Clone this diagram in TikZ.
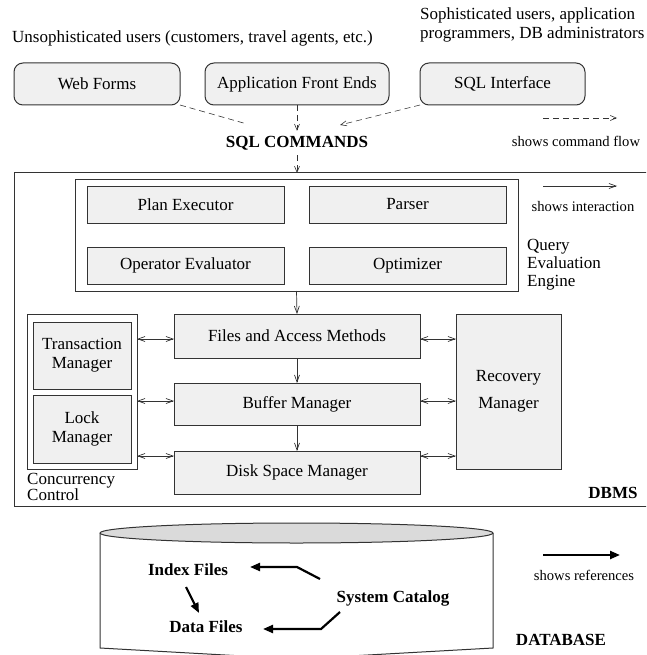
\documentclass[tikz,border=0pt]{standalone}
\usepackage{fontspec}
\setmainfont{Liberation Serif}
\usetikzlibrary{arrows.meta}
\newcommand\fsmain{\fontsize{17}{19}\selectfont}
\newcommand\fssmall{\fontsize{14.6}{16}\selectfont}
\definecolor{boxfill}{HTML}{F0F0F0}
\definecolor{linegray}{HTML}{333333}
\definecolor{topfill}{HTML}{DADADA}
\tikzset{
  box/.style={draw=linegray, fill=boxfill, line width=1pt, inner sep=0pt, outer sep=0pt, font=\fsmain, align=center},
  rbox/.style={box, rounded corners=9pt},
  frame/.style={draw=linegray, line width=1pt, inner sep=0pt, outer sep=0pt},
  txt/.style={font=\fsmain, inner sep=0pt, align=left},
  btxt/.style={font=\fsmain\bfseries, inner sep=2pt},
  small/.style={font=\fssmall, inner sep=0pt},
  flow/.style={-{Straight Barb[length=6pt,width=5pt]}, line width=0.6pt, draw=black!80, dash pattern=on 6pt off 4pt},
  inter/.style={-{Straight Barb[length=7pt,width=5pt]}, line width=0.7pt, draw=black!80},
  biarrow/.style={{Straight Barb[length=7pt,width=5pt]}-{Straight Barb[length=7pt,width=5pt]}, line width=0.7pt, draw=black!80},
  refarrow/.style={-{Triangle[length=10pt,width=8pt]}, line width=2.2pt},
}
\begin{document}
\begin{tikzpicture}[x=1pt,y=-1pt]
\useasboundingbox (0,0) rectangle (646,655);
\clip (0,0) rectangle (646,655);

% user texts
\node[txt, anchor=west] (unsoph) at (12,38) {Unsophisticated users (customers, travel agents, etc.)};
\node[txt, anchor=north west, font=\fontsize{17}{18.5}\selectfont] (soph) at (420,8) {Sophisticated users, application\\programmers, DB administrators};

% interface boxes
\node[rbox, minimum width=166pt, minimum height=42pt] (web) at (97,84) {Web Forms};
\node[rbox, minimum width=184pt, minimum height=42pt] (app) at (297,84) {Application Front Ends};
\node[rbox, minimum width=165pt, minimum height=42pt] (sqli) at (502.5,84) {SQL Interface};

\node[btxt, inner sep=5pt] (sqlc) at (297,143) {SQL COMMANDS};

% DBMS frame
\node[frame, anchor=north west, minimum width=700pt, minimum height=333pt] (dbms) at (14,173) {};

% command flow
\coordinate (webend) at (247,124);
\coordinate (sqliend) at (340,125);
\draw[flow, -] (web.south east) -- (webend);
\draw[flow] (app.south) -- (sqlc.north);
\draw[flow] (sqli.south west) -- (sqliend);
\draw[flow] (sqlc.south) -- (sqlc.south |- dbms.north);

% legends
\coordinate (lf1) at (543,118); \coordinate (lf2) at (617,118);
\draw[flow] (lf1) -- (lf2);
\node[small] (lflow) at (576,141) {shows command flow};
\coordinate (li1) at (543,186); \coordinate (li2) at (617,186);
\draw[inter] (li1) -- (li2);
\node[small] (linter) at (583,207) {shows interaction};

% query evaluation engine
\node[frame, minimum width=443pt, minimum height=112pt] (qee) at (296.5,235) {};
\node[box, minimum width=197pt, minimum height=37pt] (plan) at (185.5,204.5) {Plan Executor};
\node[box, minimum width=197pt, minimum height=37pt] (parser) at (407.5,204.5) {Parser};
\node[box, minimum width=197pt, minimum height=37pt] (opeval) at (185.5,265.5) {Operator Evaluator};
\node[box, minimum width=197pt, minimum height=37pt] (optim) at (407.5,265.5) {Optimizer};
\node[txt, anchor=west, font=\fontsize{17}{18}\selectfont] (qeel) at (527,265) {Query\\Evaluation\\Engine};

% storage layers
\node[box, minimum width=246pt, minimum height=44pt] (files) at (297,336) {Files and Access Methods};
\node[box, minimum width=246pt, minimum height=42pt] (buffer) at (297,404) {Buffer Manager};
\node[box, minimum width=246pt, minimum height=43pt] (disk) at (297,472.5) {Disk Space Manager};
\node[box, minimum width=105pt, minimum height=155pt, font=\fontsize{17}{26.5}\selectfont] (recov) at (508.5,391.5) {Recovery\\Manager};

% concurrency control
\node[frame, minimum width=110pt, minimum height=155pt] (cc) at (82,391.5) {};
\node[box, minimum width=98pt, minimum height=67pt] (tm) at (82,355.5) {Transaction\\Manager};
\node[box, minimum width=98pt, minimum height=68pt] (lm) at (82,429) {Lock\\Manager};
\node[txt, anchor=north west, font=\fontsize{17}{14}\selectfont] (ccl) at (27,473) {Concurrency\\Control};

\node[btxt, inner sep=0pt] (dbmsl) at (613,493) {DBMS};

% interactions
\draw[inter] (qee.south) -- (files.north);
\draw[inter] (files.south) -- (buffer.north);
\draw[inter] (buffer.south) -- (disk.north);
\draw[biarrow] (cc.east |- 0,339) -- (files.west |- 0,339);
\draw[biarrow] (cc.east |- 0,401) -- (buffer.west |- 0,401);
\draw[biarrow] (cc.east |- 0,456) -- (disk.west |- 0,456);
\draw[biarrow] (files.east |- 0,339) -- (recov.west |- 0,339);
\draw[biarrow] (buffer.east |- 0,401) -- (recov.west |- 0,401);
\draw[biarrow] (disk.east |- 0,456) -- (recov.west |- 0,456);

% database cylinder
\draw[linegray, line width=1pt, fill=white] (100,533) -- (100,648) -- (296.5,659) -- (493,648) -- (493,533);
\draw[linegray, line width=1pt, fill=topfill] (296.5,533) ellipse [x radius=196.5, y radius=10];

\node[btxt] (idx) at (188,570) {Index Files};
\node[btxt] (dat) at (206,627) {Data Files};
\node[btxt] (cat) at (393,598) {System Catalog};

\coordinate (idxa) at (186,587);
\coordinate (data) at (199,613);
\draw[refarrow] (idxa) -- (data);
\coordinate (cata) at (320,579);
\draw[refarrow] (cata) -- (297,567) -- (250,567);
\coordinate (catb) at (340,612);
\draw[refarrow] (catb) -- (321,629) -- (263,629);

\coordinate (lr1) at (543,555); \coordinate (lr2) at (620,555);
\draw[refarrow] (lr1) -- (lr2);
\node[small] (lref) at (584,575) {shows references};
\node[btxt, inner sep=0pt] (dbl) at (561,640) {DATABASE};
\end{tikzpicture}
\end{document}
